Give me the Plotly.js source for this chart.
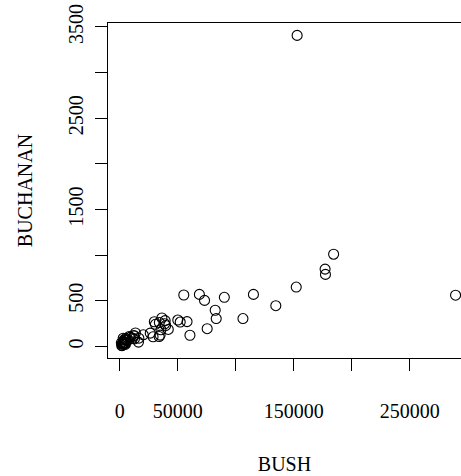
<!DOCTYPE html>
<html>
<head>
<meta charset="utf-8">
<script src="https://cdn.plot.ly/plotly-3.0.1.min.js"></script>
<style>html,body{margin:0;padding:0;background:#fff;}#chart{width:461px;height:476px;}</style>
</head>
<body>
<div id="chart"></div>
<script>
// Florida 2000 presidential election, votes by county
const counties = ["ALACHUA","BAKER","BAY","BRADFORD","BREVARD","BROWARD","CALHOUN","CHARLOTTE","CITRUS","CLAY","COLLIER","COLUMBIA","DADE","DE SOTO","DIXIE","DUVAL","ESCAMBIA","FLAGLER","FRANKLIN","GADSDEN","GILCHRIST","GLADES","GULF","HAMILTON","HARDEE","HENDRY","HERNANDO","HIGHLANDS","HILLSBOROUGH","HOLMES","INDIAN RIVER","JACKSON","JEFFERSON","LAFAYETTE","LAKE","LEE","LEON","LEVY","LIBERTY","MADISON","MANATEE","MARION","MARTIN","MONROE","NASSAU","OKALOOSA","OKEECHOBEE","ORANGE","OSCEOLA","PALM BEACH","PASCO","PINELLAS","POLK","PUTNAM","SANTA ROSA","SARASOTA","SEMINOLE","ST. JOHNS","ST. LUCIE","SUMTER","SUWANNEE","TAYLOR","UNION","VOLUSIA","WAKULLA","WALTON","WASHINGTON"];
const bush = [34062,5610,38637,5413,115185,177279,2873,35419,29744,41745,60426,10964,289456,4256,2698,152082,73029,12608,2448,4750,3300,1840,3546,2153,3764,4743,30646,20196,176967,4985,28627,9138,2481,1669,49963,106141,39053,6860,1316,3038,57948,55135,33864,16059,16404,52043,5058,134476,26216,152846,68581,184312,90101,13439,36248,83100,75293,39497,34705,12126,8014,4051,2326,82214,4511,12176,4983];
const buchanan = [262,73,248,65,570,789,90,182,270,186,122,89,561,36,29,650,504,83,33,39,29,9,71,24,30,22,242,127,847,76,105,102,29,10,289,305,282,67,39,29,272,563,108,47,90,267,43,446,145,3407,570,1010,538,147,311,305,194,229,124,114,108,27,26,396,46,120,88];

const xTickVals = [0,50000,100000,150000,200000,250000];
const xTickText = ["0","50000","","150000","","250000"];
const yTickVals = [0,500,1000,1500,2000,2500,3000,3500];
const yTickText = ["0","500","","1500","","2500","","3500"];

const FONT = "Liberation Serif, Times New Roman, serif";

Plotly.newPlot("chart", [{
  type: "scatter",
  mode: "markers",
  x: bush,
  y: buchanan,
  text: counties,
  marker: {symbol: "circle-open", size: 10, color: "#000", line: {width: 1.1, color: "#000"}},
  hoverinfo: "text+x+y"
}], {
  width: 461, height: 476,
  margin: {l: 108, r: 0, t: 22.5, b: 117.5, pad: 0},
  paper_bgcolor: "#fff", plot_bgcolor: "#fff",
  showlegend: false,
  font: {family: FONT, size: 20, color: "#000"},
  xaxis: {
    range: [-10213, 294150],
    tickmode: "array", tickvals: xTickVals, ticktext: xTickText,
    ticks: "outside", ticklen: 12, tickwidth: 1, tickcolor: "#000",
    ticklabelstandoff: 23,
    showgrid: false, zeroline: false,
    showline: true, linecolor: "#000", linewidth: 1, mirror: true,
    tickfont: {family: FONT, size: 20, color: "#000"},
    title: {text: "BUSH", font: {family: FONT, size: 20, color: "#000"}, standoff: 35},
    automargin: false
  },
  yaxis: {
    range: [-127, 3543],
    tickmode: "array", tickvals: yTickVals, ticktext: yTickText,
    ticks: "outside", ticklen: 12, tickwidth: 1, tickcolor: "#000",
    tickangle: -90,
    ticklabelstandoff: 4,
    showgrid: false, zeroline: false,
    showline: true, linecolor: "#000", linewidth: 1, mirror: false,
    tickfont: {family: FONT, size: 20, color: "#000"},
    title: {text: "BUCHANAN", font: {family: FONT, size: 20, color: "#000"}, standoff: 27},
    automargin: false
  }
}, {displayModeBar: false, staticPlot: true});
</script>
</body>
</html>
